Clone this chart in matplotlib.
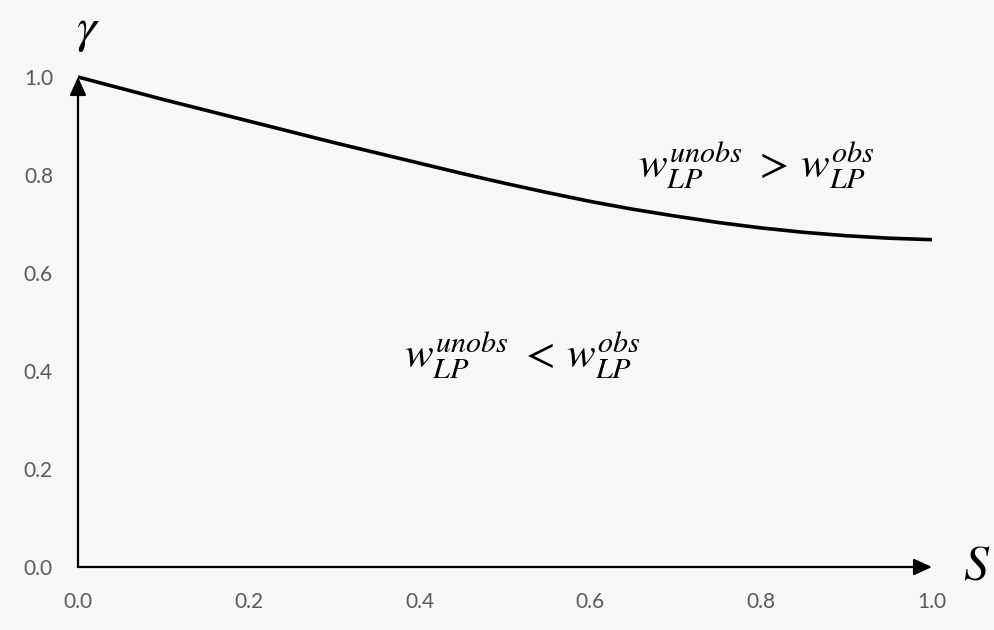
import matplotlib.pyplot as plt
import numpy as np

plt.rcParams.update({
    "mathtext.fontset": "stix",
    "font.family": ["Lato", "DejaVu Sans"],
})

# boundary curve gamma(s)
s_vals = [0.00, 0.05, 0.10, 0.15, 0.20, 0.25, 0.30, 0.35, 0.40, 0.45, 0.50,
          0.55, 0.60, 0.65, 0.70, 0.75, 0.80, 0.85, 0.90, 0.95, 1.00]
gamma_vals = [1.000, 0.977, 0.954, 0.932, 0.910, 0.888, 0.866, 0.845, 0.824,
              0.803, 0.783, 0.764, 0.746, 0.730, 0.716, 0.703, 0.692, 0.683,
              0.676, 0.671, 0.668]

x_ticks = [0.0, 0.2, 0.4, 0.6, 0.8, 1.0]
y_ticks = [0.0, 0.2, 0.4, 0.6, 0.8, 1.0]
tick_labels = ["0.0", "0.2", "0.4", "0.6", "0.8", "1.0"]

upper_label = r"$w_{LP}^{unobs}\,\,>\,w_{LP}^{obs}$"
lower_label = r"$w_{LP}^{unobs}\,\,<\,w_{LP}^{obs}$"

bg = "#f7f7f7"
tick_col = "#595959"

fig = plt.figure(figsize=(9.95, 6.3), dpi=100, facecolor=bg)
ax = fig.add_axes([78 / 995, 63 / 630, 854 / 995, 490 / 630], facecolor=bg)

ax.plot(s_vals, gamma_vals, color="black", lw=2.6, clip_on=False,
        solid_capstyle="butt")

ax.set_xlim(0, 1.0)
ax.set_ylim(0, 1.0)
for sp in ax.spines.values():
    sp.set_visible(False)

ax.set_xticks(x_ticks, tick_labels)
ax.set_yticks(y_ticks, tick_labels)
ax.tick_params(length=0, labelsize=15, labelcolor=tick_col, pad=18)

# axes drawn as arrows
arrow = dict(arrowstyle="-|>,head_length=0.55,head_width=0.25",
             mutation_scale=20, lw=1.6, color="black", shrinkA=0, shrinkB=0)
ax.annotate("", xy=(1.0, 0), xytext=(0, 0), arrowprops=arrow,
            annotation_clip=False)
ax.annotate("", xy=(0, 1.0), xytext=(0, 0), arrowprops=arrow,
            annotation_clip=False)

ax.text(0.012, 1.094, r"$\gamma$", fontsize=36, ha="center", va="center",
        clip_on=False)
ax.text(1.052, 0.004, r"$S$", fontsize=36, ha="center", va="center",
        clip_on=False)

ax.text(0.795, 0.82, upper_label, fontsize=31, ha="center", va="center")
ax.text(0.52, 0.433, lower_label, fontsize=31, ha="center", va="center")

fig.savefig("out.png", dpi=100, facecolor=bg)
